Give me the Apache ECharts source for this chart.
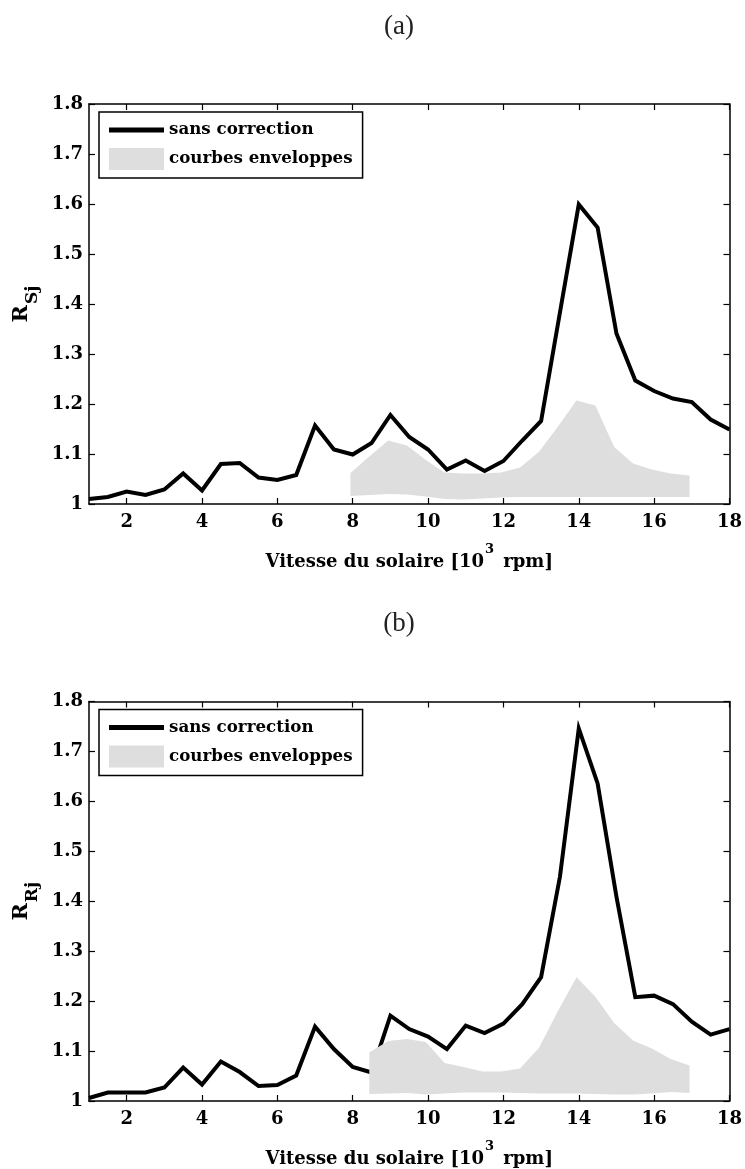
<!DOCTYPE html>
<html>
<head>
<meta charset="utf-8">
<script src="https://cdn.jsdelivr.net/npm/echarts@6/dist/echarts.min.js"></script>
<style>
html,body{margin:0;padding:0;background:#fff;}
#c{width:745px;height:1169px;}
</style>
</head>
<body>
<div id="c"></div>
<script>
// ---- data ----
const xSpeed = [1,1.5,2,2.5,3,3.5,4,4.5,5,5.5,6,6.5,7,7.5,8,8.5,9,9.5,10,10.5,11,11.5,12,12.5,13,13.5,14,14.5,15,15.5,16,16.5,17,17.5,18];
const rSjSansCorrection = [1.010,1.014,1.025,1.018,1.029,1.061,1.027,1.080,1.082,1.053,1.048,1.058,1.157,1.109,1.099,1.122,1.178,1.134,1.109,1.069,1.087,1.066,1.086,1.127,1.166,1.383,1.599,1.553,1.341,1.247,1.226,1.211,1.204,1.169,1.149];
const envXA = [7.94,8.44,8.94,9.44,9.94,10.44,10.94,11.44,11.94,12.44,12.94,13.44,13.94,14.44,14.94,15.44,15.94,16.44,16.94];
const envUpperA = [1.062,1.095,1.127,1.117,1.088,1.063,1.061,1.061,1.063,1.073,1.104,1.154,1.207,1.197,1.114,1.081,1.069,1.061,1.057];
const envLowerA = [1.016,1.018,1.020,1.019,1.015,1.010,1.009,1.011,1.013,1.014,1.014,1.014,1.014,1.014,1.014,1.014,1.014,1.014,1.014];

const rRjSansCorrection = [1.006,1.017,1.017,1.017,1.027,1.067,1.033,1.079,1.058,1.030,1.032,1.051,1.149,1.104,1.068,1.057,1.171,1.144,1.129,1.104,1.151,1.136,1.155,1.194,1.248,1.449,1.746,1.636,1.409,1.208,1.211,1.194,1.159,1.133,1.144];
const envXB = [8.44,8.94,9.44,9.94,10.44,10.94,11.44,11.94,12.44,12.94,13.44,13.94,14.44,14.94,15.44,15.94,16.44,16.94];
const envUpperB = [1.097,1.120,1.124,1.118,1.076,1.068,1.059,1.059,1.065,1.106,1.179,1.248,1.209,1.156,1.121,1.105,1.084,1.071];
const envLowerB = [1.014,1.015,1.016,1.013,1.015,1.017,1.017,1.017,1.016,1.015,1.015,1.015,1.014,1.013,1.013,1.015,1.018,1.016];

const xTickValues = [2,4,6,8,10,12,14,16,18];
const panelTitles = ['(a)','(b)'];
const yNames = [['R','Sj'],['R','Rj']];
const seriesNames = ['sans correction','courbes enveloppes'];

// ---- styling ----
const FONT = 'DejaVu Serif';
const ENV_COLOR = '#dedede';
const grids = [
  {left:89, top:104, width:644, height:400},
  {left:89, top:701.5, width:644, height:400}
];

function bandRenderer(xs, lo, hi){
  return function(params, api){
    if (params.dataIndex !== 0) return null;
    const pts = [];
    for (let i = 0; i < xs.length; i++) pts.push(api.coord([xs[i], hi[i]]));
    for (let i = xs.length - 1; i >= 0; i--) pts.push(api.coord([xs[i], lo[i]]));
    return {type:'polygon', shape:{points:pts}, style:{fill:ENV_COLOR}};
  };
}

const xAxes = [], yAxes = [];
grids.forEach((g, gi) => {
  const base = {
    type:'value', gridIndex:gi, min:1, max:18,
    axisLine:{show:true, onZero:false, lineStyle:{color:'#000', width:1.5}},
    axisTick:{show:true, inside:true, length:6, customValues:xTickValues, lineStyle:{color:'#000', width:1.2}},
    splitLine:{show:false}
  };
  xAxes.push(Object.assign({}, base, {
    position:'bottom',
    axisLabel:{show:true, customValues:xTickValues, margin:9, color:'#000', fontFamily:FONT, fontWeight:'bold', fontSize:18},
    name:'{b|Vitesse du solaire [10}{sup|3}{b| rpm]}',
    nameLocation:'middle', nameGap:39,
    nameTextStyle:{
      rich:{
        b:{fontFamily:FONT, fontWeight:'bold', fontSize:18, color:'#000', lineHeight:28, verticalAlign:'bottom'},
        sup:{fontFamily:FONT, fontWeight:'bold', fontSize:13, color:'#000', lineHeight:13, verticalAlign:'top', padding:[0,3,0,1]}
      }
    }
  }));
  xAxes.push(Object.assign({}, base, {position:'top', axisLabel:{show:false}}));
  const ybase = {
    type:'value', gridIndex:gi, min:1, max:1.8, interval:0.1,
    axisLine:{show:true, onZero:false, lineStyle:{color:'#000', width:1.5}},
    axisTick:{show:true, inside:true, length:6, lineStyle:{color:'#000', width:1.2}},
    splitLine:{show:false}
  };
  yAxes.push(Object.assign({}, ybase, {
    position:'left',
    axisLabel:{show:true, margin:6, color:'#000', fontFamily:FONT, fontWeight:'bold', fontSize:18},
    name:'{r|' + yNames[gi][0] + '}{s|' + yNames[gi][1] + '}',
    nameLocation:'middle', nameGap:47, nameRotate:90,
    nameTextStyle:{
      rich:{
        r:{fontFamily:FONT, fontWeight:'bold', fontSize:21, color:'#000', lineHeight:21, verticalAlign:'top'},
        s:{fontFamily:FONT, fontWeight:'bold', fontSize:17, color:'#000', lineHeight:17, verticalAlign:'top', padding:[13,0,0,1]}
      }
    }
  }));
  yAxes.push(Object.assign({}, ybase, {position:'right', axisLabel:{show:false}}));
});

const legendBase = {
  orient:'vertical', left:99, itemWidth:55, itemHeight:22, itemGap:7,
  padding:[7,10,8,10], borderColor:'#000', borderWidth:1.5, backgroundColor:'#fff',
  selectedMode:false,
  textStyle:{fontFamily:FONT, fontWeight:'bold', fontSize:16.7, lineHeight:22, color:'#000'},
  data:[
    {name:seriesNames[0], icon:'path://M0,0H55V5H0Z'},
    {name:seriesNames[1], icon:'rect'}
  ]
};

const option = {
  animation:false,
  backgroundColor:'#fff',
  title:[
    {text:panelTitles[0], left:394, top:8, textAlign:'center', textStyle:{fontFamily:'Liberation Serif', fontWeight:'normal', fontSize:27, color:'#222'}},
    {text:panelTitles[1], left:394, top:605, textAlign:'center', textStyle:{fontFamily:'Liberation Serif', fontWeight:'normal', fontSize:27, color:'#222'}}
  ],
  legend:[
    Object.assign({}, legendBase, {top:112}),
    Object.assign({}, legendBase, {top:709.5})
  ],
  grid:grids,
  xAxis:xAxes,
  yAxis:yAxes,
  series:[
    {name:seriesNames[0], type:'line', xAxisIndex:0, yAxisIndex:0, symbol:'none',
     data:xSpeed.map((x,i)=>[x, rSjSansCorrection[i]]),
     itemStyle:{color:'#000'}, lineStyle:{color:'#000', width:4, join:'miter', cap:'butt'}, z:2},
    {name:seriesNames[1], type:'custom', xAxisIndex:0, yAxisIndex:0,
     renderItem:bandRenderer(envXA, envLowerA, envUpperA),
     data:envXA.map((x,i)=>[x, envLowerA[i], envUpperA[i]]),
     encode:{x:0, y:[1,2]}, itemStyle:{color:ENV_COLOR}, z:3, clip:true},
    {name:seriesNames[0], type:'line', xAxisIndex:2, yAxisIndex:2, symbol:'none',
     data:xSpeed.map((x,i)=>[x, rRjSansCorrection[i]]),
     itemStyle:{color:'#000'}, lineStyle:{color:'#000', width:4, join:'miter', cap:'butt'}, z:2},
    {name:seriesNames[1], type:'custom', xAxisIndex:2, yAxisIndex:2,
     renderItem:bandRenderer(envXB, envLowerB, envUpperB),
     data:envXB.map((x,i)=>[x, envLowerB[i], envUpperB[i]]),
     encode:{x:0, y:[1,2]}, itemStyle:{color:ENV_COLOR}, z:3, clip:true}
  ]
};

const chart = echarts.init(document.getElementById('c'), null, {renderer:'canvas'});
chart.setOption(option);
</script>
</body>
</html>
